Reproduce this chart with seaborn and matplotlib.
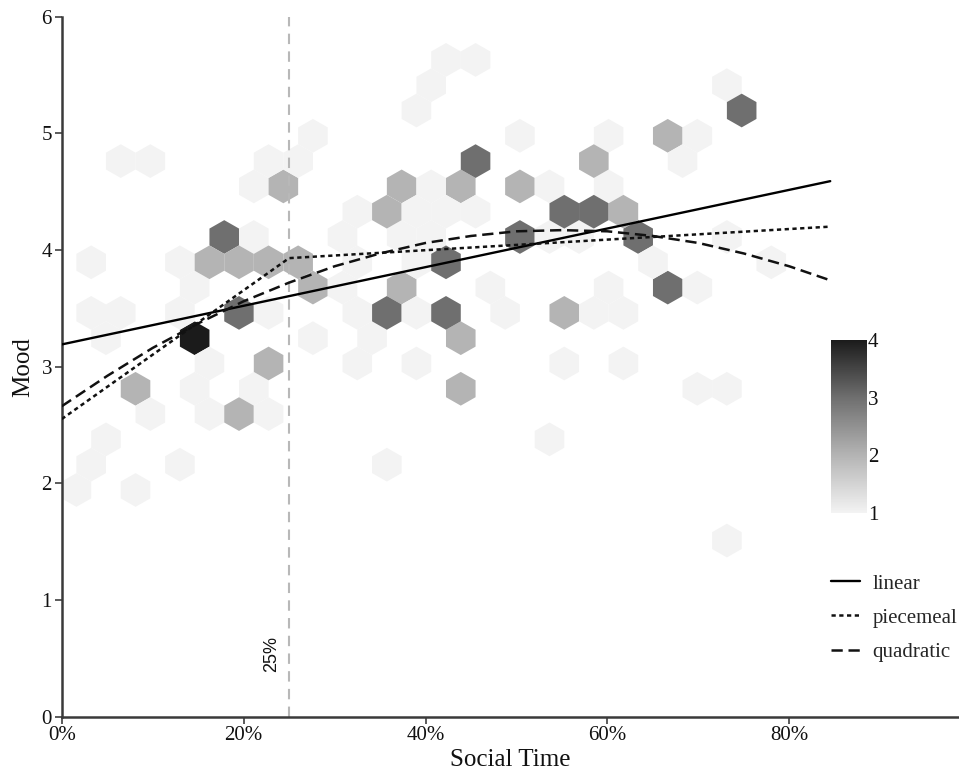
import numpy as np
import pandas as pd
import matplotlib
matplotlib.use("Agg")
import matplotlib.pyplot as plt
import seaborn as sns
from matplotlib.colors import LinearSegmentedColormap

# ---------------- data ----------------
# hexagon cells: Social Time (fraction), Mood, count
hex_x = [0.423, 0.455,
         0.406, 0.731,
         0.390, 0.748,
         0.276, 0.504, 0.601, 0.666, 0.699,
         0.065, 0.098, 0.228, 0.260, 0.455, 0.585, 0.683,
         0.211, 0.244, 0.374, 0.406, 0.439, 0.504, 0.536, 0.601,
         0.325, 0.358, 0.390, 0.423, 0.455, 0.553, 0.585, 0.618,
         0.179, 0.211, 0.309, 0.374, 0.406, 0.504, 0.536, 0.569, 0.634, 0.731,
         0.033, 0.130, 0.163, 0.195, 0.228, 0.260, 0.325, 0.390, 0.423, 0.650, 0.780,
         0.146, 0.276, 0.309, 0.374, 0.471, 0.601, 0.666, 0.699,
         0.033, 0.065, 0.130, 0.195, 0.228, 0.325, 0.358, 0.390, 0.423, 0.488, 0.553, 0.585, 0.618,
         0.049, 0.146, 0.276, 0.341, 0.439,
         0.163, 0.228, 0.325, 0.390, 0.553, 0.618,
         0.081, 0.146, 0.211, 0.439, 0.699, 0.731,
         0.098, 0.163, 0.195, 0.228,
         0.049, 0.536,
         0.033, 0.130, 0.358,
         0.016, 0.081,
         0.731]
hex_y = [5.63, 5.63,
         5.41, 5.41,
         5.20, 5.20,
         4.98, 4.98, 4.98, 4.98, 4.98,
         4.76, 4.76, 4.76, 4.76, 4.76, 4.76, 4.76,
         4.55, 4.55, 4.55, 4.55, 4.55, 4.55, 4.55, 4.55,
         4.33, 4.33, 4.33, 4.33, 4.33, 4.33, 4.33, 4.33,
         4.11, 4.11, 4.11, 4.11, 4.11, 4.11, 4.11, 4.11, 4.11, 4.11,
         3.90, 3.90, 3.90, 3.90, 3.90, 3.90, 3.90, 3.90, 3.90, 3.90, 3.90,
         3.68, 3.68, 3.68, 3.68, 3.68, 3.68, 3.68, 3.68,
         3.46, 3.46, 3.46, 3.46, 3.46, 3.46, 3.46, 3.46, 3.46, 3.46, 3.46, 3.46, 3.46,
         3.24, 3.24, 3.24, 3.24, 3.24,
         3.03, 3.03, 3.03, 3.03, 3.03, 3.03,
         2.81, 2.81, 2.81, 2.81, 2.81, 2.81,
         2.59, 2.59, 2.59, 2.59,
         2.38, 2.38,
         2.16, 2.16, 2.16,
         1.94, 1.94,
         1.51]
hex_n = [1, 1,
         1, 1,
         1, 3,
         1, 1, 1, 2, 1,
         1, 1, 1, 1, 3, 2, 1,
         1, 2, 2, 1, 2, 2, 1, 1,
         1, 2, 1, 1, 1, 3, 3, 2,
         3, 1, 1, 1, 1, 3, 1, 1, 3, 1,
         1, 1, 2, 2, 2, 2, 1, 1, 3, 1, 1,
         1, 2, 1, 2, 1, 1, 3, 1,
         1, 1, 1, 3, 1, 1, 3, 1, 3, 1, 2, 1, 1,
         1, 4, 1, 1, 2,
         1, 2, 1, 1, 1, 1,
         2, 1, 1, 2, 1, 1,
         1, 1, 2, 1,
         1, 1,
         1, 1, 1,
         1, 1,
         1]

# model curves
linear_x = [0.0, 0.845]
linear_y = [3.19, 4.59]
piece_x = [0.0, 0.25, 0.845]
piece_y = [2.55, 3.93, 4.20]
quad_x = [0.0, 0.05, 0.10, 0.15, 0.20, 0.25, 0.30, 0.35, 0.40, 0.45, 0.50,
          0.55, 0.60, 0.65, 0.70, 0.75, 0.80, 0.845]
quad_y = [2.66, 2.92, 3.16, 3.37, 3.56, 3.72, 3.86, 3.97, 4.06, 4.12, 4.16,
          4.17, 4.16, 4.12, 4.06, 3.97, 3.86, 3.74]
series_names = ["linear", "piecemeal", "quadratic"]

x_ticks = [0.0, 0.2, 0.4, 0.6, 0.8]
x_tick_labels = ["0%", "20%", "40%", "60%", "80%"]
y_ticks = [0, 1, 2, 3, 4, 5, 6]
cbar_ticks = [1, 2, 3, 4]
cutoff_x = 0.25
cutoff_label = "25%"
x_label = "Social Time"
y_label = "Mood"

# ---------------- styling ----------------
sns.set_theme(style="white")
plt.rcParams['font.family'] = ['Liberation Serif', 'DejaVu Serif']

W, H = 959, 774
fig = plt.figure(figsize=(W / 100, H / 100), dpi=100)
x0px, y0px, ytop = 61.7, 716.5, 16.7
ax = fig.add_axes([x0px / W, 1 - y0px / H, 1 - x0px / W, (y0px - ytop) / H])

cmap = LinearSegmentedColormap.from_list(
    "greys_hex", [(0.0, "#f3f3f3"), (1 / 3, "#b4b4b4"), (2 / 3, "#6f6f6f"), (1.0, "#1b1b1b")])

# hex lattice geometry (matches the reference grid)
sx, sy = 0.03251, 0.4338
xmin = 0.1462 - 5 * sx
ymin = 3.2436 - 8 * sy
nx, ny = 31, 15
hb = ax.hexbin(hex_x, hex_y, C=hex_n, reduce_C_function=np.sum,
               gridsize=(nx, ny), extent=(xmin, xmin + nx * sx, ymin, ymin + ny * sy),
               cmap=cmap, vmin=1, vmax=4, linewidths=0.0, edgecolors='face', zorder=1)

# cutoff line
ax.axvline(cutoff_x, color="#b8b8b8", linewidth=1.5, linestyle=(0, (5, 3.5)), zorder=2)
ax.text(0.231, 0.54, cutoff_label, rotation=90, ha="center", va="center",
        fontsize=13, family=["Liberation Sans", "DejaVu Sans"], color="#111111")

# model lines
handles = []
sns.lineplot(x=linear_x, y=linear_y, ax=ax, color="black", linewidth=1.7,
             linestyle="-", zorder=3)
handles.append(ax.lines[-1])
sns.lineplot(x=piece_x, y=piece_y, ax=ax, color="#111111", linewidth=1.8,
             linestyle=(0, (1.7, 1.4)), zorder=3)
handles.append(ax.lines[-1])
sns.lineplot(x=quad_x, y=quad_y, ax=ax, color="#111111", linewidth=1.8,
             linestyle=(0, (4.5, 2.3)), zorder=3)
handles.append(ax.lines[-1])

ax.set_xlim(0, (W - x0px) / 909.5)
ax.set_ylim(0, 6)
ax.set_xticks(x_ticks)
ax.set_xticklabels(x_tick_labels)
ax.set_yticks(y_ticks)
ax.tick_params(axis="both", which="major", bottom=True, left=True, direction="out",
               length=5, width=1.2, color="#404040", labelsize=15,
               labelcolor="#111111", pad=2)
for s in ["top", "right"]:
    ax.spines[s].set_visible(False)
for s in ["left", "bottom"]:
    ax.spines[s].set_color("#3a3a3a")
    ax.spines[s].set_linewidth(1.8)
ax.set_xlabel(x_label, fontsize=18, color="#111111", labelpad=3)
ax.set_ylabel(y_label, fontsize=18, color="#111111", labelpad=5)
ax.grid(False)

# legend for the lines
leg = fig.legend(handles, series_names, loc="upper left",
                 bbox_to_anchor=(831 / W, 1 - 574 / H), frameon=False,
                 fontsize=15, handlelength=1.4, handletextpad=0.6,
                 labelspacing=0.7, borderpad=0, borderaxespad=0)

# colour bar
cax = fig.add_axes([830.7 / W, 1 - 513 / H, 36 / W, 173 / H])
cb = fig.colorbar(hb, cax=cax, ticks=cbar_ticks)
cb.outline.set_visible(False)
cax.tick_params(which="major", direction="in", length=7, width=1.2, color="white",
                left=True, right=True, labelleft=False, labelright=True,
                labelsize=15, labelcolor="#111111", pad=1)
cax.minorticks_off()

fig.savefig("out.png", dpi=100)
